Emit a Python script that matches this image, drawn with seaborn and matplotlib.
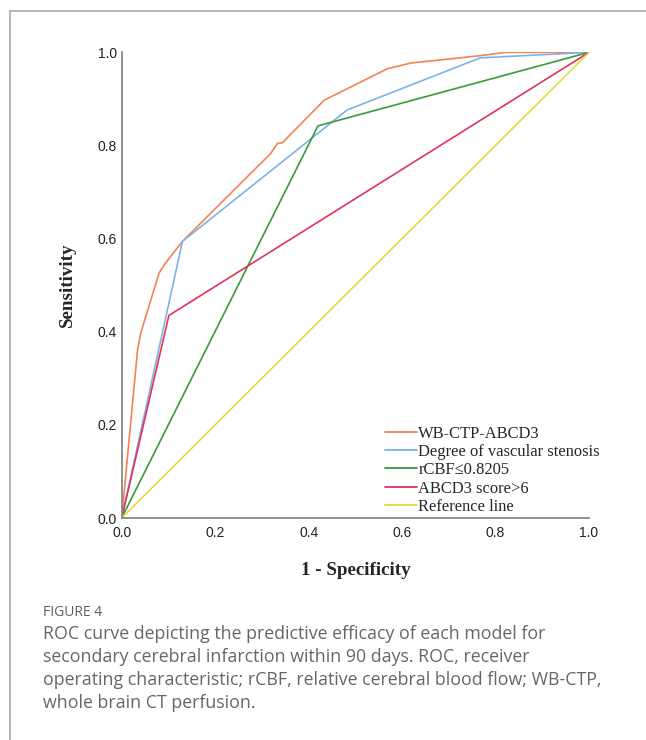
import numpy as np
import pandas as pd
import seaborn as sns
import matplotlib.pyplot as plt
from matplotlib.lines import Line2D

# ROC curves
wb_fpr = [0.0, 0.034, 0.041, 0.080, 0.094, 0.130, 0.176, 0.319, 0.333, 0.344,
          0.433, 0.469, 0.569, 0.619, 0.769, 0.822, 1.0]
wb_tpr = [0.0, 0.362, 0.398, 0.526, 0.548, 0.594, 0.640, 0.783, 0.804, 0.806,
          0.897, 0.915, 0.965, 0.977, 0.993, 1.0, 1.0]
sten_fpr = [0.0, 0.130, 0.482, 0.767, 1.0]
sten_tpr = [0.0, 0.594, 0.876, 0.988, 1.0]
rcbf_fpr = [0.0, 0.420, 1.0]
rcbf_tpr = [0.0, 0.842, 1.0]
abcd_fpr = [0.0, 0.101, 1.0]
abcd_tpr = [0.0, 0.435, 1.0]
ref_fpr = [0.0, 1.0]
ref_tpr = [0.0, 1.0]

names = ['WB-CTP-ABCD3', 'Degree of vascular stenosis', 'rCBF\u22640.8205',
         'ABCD3 score>6', 'Reference line']
colors = ['#F2844F', '#7DB2E8', '#3A9A3A', '#DF3459', '#E6DA3A']
ticks = [0.0, 0.2, 0.4, 0.6, 0.8, 1.0]

curves = [(wb_fpr, wb_tpr), (sten_fpr, sten_tpr), (rcbf_fpr, rcbf_tpr),
          (abcd_fpr, abcd_tpr), (ref_fpr, ref_tpr)]
frames = []
for name, (fx, ty) in zip(names, curves):
    frames.append(pd.DataFrame({'fpr': fx, 'tpr': ty, 'model': name}))
df = pd.concat(frames, ignore_index=True)

sns.set_style('white')
plt.rcParams['font.family'] = ['Liberation Sans', 'DejaVu Sans']
serif = ['Liberation Serif', 'DejaVu Serif']

fig = plt.figure(figsize=(6.46, 7.40), dpi=100)
ax = fig.add_axes([0.1884, 0.3, 0.7234, 0.6293])

sns.lineplot(data=df, x='fpr', y='tpr', hue='model', hue_order=names,
             palette=colors, sort=False, estimator=None, linewidth=1.2, ax=ax)

ax.set_xlim(0, 1)
ax.set_ylim(0, 1)
ax.set_xticks(ticks)
ax.set_yticks(ticks)
ax.set_xticklabels([f'{t:.1f}' for t in ticks])
ax.set_yticklabels([f'{t:.1f}' for t in ticks])
ax.tick_params(length=0, labelsize=10, colors='#222222')
ax.tick_params(axis='y', pad=3.5)
ax.tick_params(axis='x', pad=5.5)
for s in ['top', 'right']:
    ax.spines[s].set_visible(False)
for s in ['left', 'bottom']:
    ax.spines[s].set_color('#888888')
    ax.spines[s].set_linewidth(1.3)

ax.set_xlabel('1 - Specificity', fontsize=13.7, fontweight='bold', family=serif)
ax.set_ylabel('Sensitivity', fontsize=13.7, fontweight='bold', family=serif)
ax.xaxis.set_label_coords(0.5, -0.094)
ax.yaxis.set_label_coords(-0.098, 0.5)

leg = ax.legend(loc='upper left', bbox_to_anchor=(0.5635, 0.1985), frameon=False,
                prop={'family': serif, 'size': 11.9}, borderpad=0, borderaxespad=0,
                handlelength=1.94, handletextpad=0.08, labelspacing=0.14)
for h in leg.get_lines():
    h.set_linewidth(1.3)

# page frame lines (top and left)
fig.add_artist(Line2D([9.5 / 646, 1.0], [1 - 10.7 / 740, 1 - 10.7 / 740],
                      color='#aaaaaa', lw=1.2, transform=fig.transFigure))
fig.add_artist(Line2D([9.5 / 646, 9.5 / 646], [0.0, 1 - 10.7 / 740],
                      color='#aaaaaa', lw=1.2, transform=fig.transFigure))

cap_font = ['Open Sans', 'DejaVu Sans']
fig.text(43 / 646, 1 - 612 / 740, 'FIGURE 4', fontsize=10, color='#5f5f5f',
         family=cap_font, va='center')
caption = ['ROC curve depicting the predictive efficacy of each model for',
           'secondary cerebral infarction within 90 days. ROC, receiver',
           'operating characteristic; rCBF, relative cerebral blood flow; WB-CTP,',
           'whole brain CT perfusion.']
for i, line in enumerate(caption):
    fig.text(43 / 646, 1 - (634 + i * 23) / 740, line, fontsize=12.8,
             color='#666666', family=cap_font, va='center')

fig.savefig('out.png', dpi=100)
